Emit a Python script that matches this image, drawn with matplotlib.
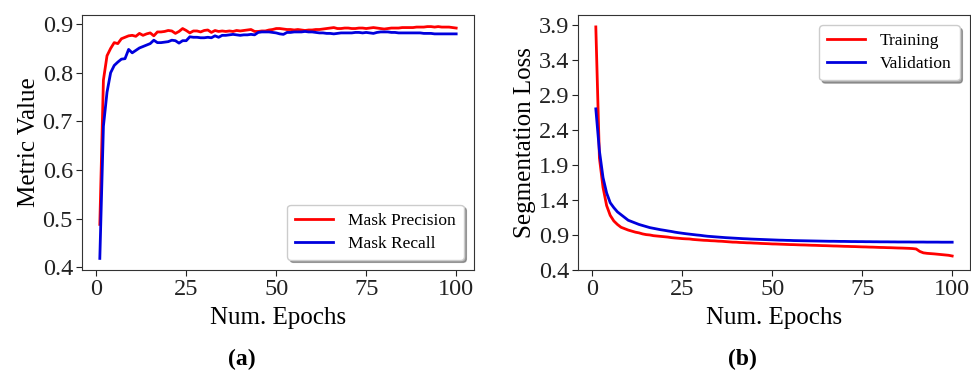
import numpy as np
import matplotlib
matplotlib.use("Agg")
import matplotlib.pyplot as plt

plt.rcParams['font.family'] = ['Liberation Serif', 'DejaVu Serif']

epochs = list(range(1, 101))

mask_precision = [
    0.488, 0.785, 0.835, 0.850, 0.862, 0.860, 0.870, 0.873, 0.876, 0.877,
    0.875, 0.881, 0.877, 0.880, 0.882, 0.876, 0.884, 0.884, 0.885, 0.887,
    0.886, 0.881, 0.885, 0.891, 0.887, 0.882, 0.886, 0.886, 0.884, 0.887,
    0.888, 0.883, 0.887, 0.885, 0.886, 0.885, 0.886, 0.885, 0.887, 0.886,
    0.887, 0.888, 0.889, 0.885, 0.885, 0.886, 0.886, 0.888, 0.889, 0.891,
    0.891, 0.890, 0.889, 0.889, 0.888, 0.889, 0.888, 0.887, 0.888, 0.888,
    0.889, 0.889, 0.890, 0.891, 0.892, 0.893, 0.891, 0.891, 0.892, 0.892,
    0.891, 0.891, 0.892, 0.892, 0.891, 0.892, 0.893, 0.892, 0.891, 0.890,
    0.891, 0.892, 0.892, 0.892, 0.893, 0.893, 0.893, 0.893, 0.894, 0.894,
    0.894, 0.895, 0.895, 0.894, 0.895, 0.894, 0.894, 0.894, 0.893, 0.892,
]

mask_recall = [
    0.418, 0.690, 0.760, 0.800, 0.815, 0.822, 0.828, 0.829, 0.848, 0.841,
    0.846, 0.851, 0.854, 0.857, 0.860, 0.867, 0.862, 0.862, 0.863, 0.864,
    0.867, 0.866, 0.861, 0.866, 0.866, 0.874, 0.873, 0.873, 0.872, 0.872,
    0.873, 0.872, 0.876, 0.873, 0.877, 0.877, 0.878, 0.879, 0.878, 0.877,
    0.878, 0.878, 0.879, 0.878, 0.883, 0.884, 0.884, 0.884, 0.883, 0.882,
    0.880, 0.879, 0.883, 0.883, 0.884, 0.884, 0.884, 0.885, 0.884, 0.884,
    0.883, 0.882, 0.882, 0.881, 0.881, 0.880, 0.881, 0.882, 0.882, 0.882,
    0.882, 0.883, 0.883, 0.882, 0.883, 0.882, 0.881, 0.883, 0.884, 0.884,
    0.884, 0.883, 0.883, 0.882, 0.882, 0.882, 0.882, 0.882, 0.882, 0.882,
    0.881, 0.881, 0.881, 0.880, 0.880, 0.880, 0.880, 0.880, 0.880, 0.880,
]

train_loss = [
    3.87, 2.00, 1.58, 1.32, 1.18, 1.10, 1.05, 1.01, 0.99, 0.97,
    0.955, 0.94, 0.93, 0.915, 0.905, 0.90, 0.89, 0.885, 0.88, 0.875,
    0.87, 0.862, 0.857, 0.853, 0.848, 0.845, 0.843, 0.836, 0.832, 0.828,
    0.824, 0.822, 0.818, 0.816, 0.812, 0.81, 0.806, 0.802, 0.798, 0.797,
    0.793, 0.791, 0.788, 0.787, 0.784, 0.782, 0.779, 0.777, 0.775, 0.772,
    0.771, 0.769, 0.767, 0.765, 0.763, 0.762, 0.760, 0.758, 0.757, 0.755,
    0.753, 0.752, 0.750, 0.748, 0.747, 0.745, 0.743, 0.742, 0.740, 0.738,
    0.737, 0.735, 0.734, 0.732, 0.730, 0.729, 0.727, 0.726, 0.724, 0.722,
    0.721, 0.719, 0.718, 0.716, 0.714, 0.713, 0.711, 0.709, 0.706, 0.700,
    0.665, 0.645, 0.638, 0.634, 0.630, 0.625, 0.620, 0.615, 0.610, 0.600,
]

val_loss = [
    2.70, 2.10, 1.72, 1.50, 1.36, 1.29, 1.23, 1.19, 1.15, 1.11,
    1.09, 1.07, 1.05, 1.035, 1.02, 1.005, 0.995, 0.985, 0.975, 0.967,
    0.958, 0.95, 0.94, 0.932, 0.925, 0.918, 0.912, 0.906, 0.90, 0.895,
    0.888, 0.882, 0.878, 0.874, 0.87, 0.866, 0.862, 0.859, 0.856, 0.853,
    0.85, 0.847, 0.845, 0.842, 0.84, 0.838, 0.836, 0.834, 0.832, 0.83,
    0.828, 0.826, 0.825, 0.823, 0.822, 0.82, 0.819, 0.818, 0.817, 0.816,
    0.815, 0.814, 0.813, 0.812, 0.811, 0.81, 0.81, 0.809, 0.808, 0.808,
    0.807, 0.806, 0.806, 0.805, 0.805, 0.804, 0.804, 0.803, 0.803, 0.802,
    0.802, 0.802, 0.801, 0.801, 0.80, 0.80, 0.80, 0.80, 0.799, 0.799,
    0.799, 0.799, 0.798, 0.798, 0.798, 0.798, 0.797, 0.797, 0.797, 0.797,
]

xticks = [0, 25, 50, 75, 100]
loss_yticks = [0.4, 0.9, 1.4, 1.9, 2.4, 2.9, 3.4, 3.9]

W, H = 971, 371
fig = plt.figure(figsize=(W / 100, H / 100), dpi=100)

ax1 = fig.add_axes([82 / W, (H - 270) / H, 392 / W, 255 / H])
ax2 = fig.add_axes([578 / W, (H - 270) / H, 392 / W, 255 / H])

tick_fs = 17.5
label_fs = 18
leg_fs = 12.5
lw = 2.0

leg_kw = dict(fontsize=leg_fs, shadow=True, fancybox=True, borderaxespad=0.6,
              handlelength=2.2, handletextpad=0.85, borderpad=0.45,
              labelspacing=0.4)

ax1.plot(epochs, mask_precision, color='#ff0000', lw=lw, label='Mask Precision')
ax1.plot(epochs, mask_recall, color='#0000dd', lw=lw, label='Mask Recall')
ax1.set_xticks(xticks)
ax1.set_yticks([0.4, 0.5, 0.6, 0.7, 0.8, 0.9])
ax1.set_xlabel('Num. Epochs', fontsize=label_fs, labelpad=5)
ax1.set_ylabel('Metric Value', fontsize=label_fs, labelpad=2)
ax1.legend(loc='lower right', **leg_kw)

ax2.plot(epochs, train_loss, color='#ff0000', lw=lw, label='Training')
ax2.plot(epochs, val_loss, color='#0000dd', lw=lw, label='Validation')
ax2.set_xticks(xticks)
ax2.set_yticks(loss_yticks)
ax2.set_ylim(0.4, 4.04)
ax2.set_xlabel('Num. Epochs', fontsize=label_fs, labelpad=5)
ax2.set_ylabel('Segmentation Loss', fontsize=label_fs, labelpad=2)
ax2.legend(loc='upper right', **leg_kw)

for ax in (ax1, ax2):
    ax.tick_params(labelsize=tick_fs, colors='#222222', length=4, pad=2.5)
    for s in ax.spines.values():
        s.set_color('#333333')

fig.text(242 / W, 1 - 359 / H, '(a)', ha='center', va='center',
         fontsize=17, fontweight='bold')
fig.text(742 / W, 1 - 359 / H, '(b)', ha='center', va='center',
         fontsize=17, fontweight='bold')

fig.savefig('out.png', dpi=100)
